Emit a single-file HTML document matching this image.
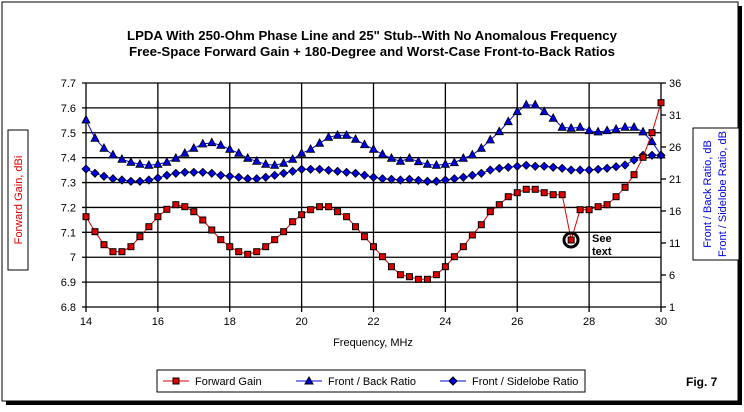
<!DOCTYPE html>
<html><head><meta charset="utf-8"><style>
body{margin:0;background:#fff;width:744px;height:407px;overflow:hidden;font-family:"Liberation Sans",Arial,sans-serif}
</style></head><body>
<svg id="s" width="744" height="407" xmlns="http://www.w3.org/2000/svg" font-family="Liberation Sans, Arial, sans-serif">
<rect x="0" y="0" width="744" height="407" fill="#fff"/>
<rect x="6" y="6" width="736" height="399" fill="#000"/>
<rect x="2" y="2" width="736" height="399" fill="#fff" stroke="#000" stroke-width="1"/>
<text x="127" y="40" textLength="490" lengthAdjust="spacingAndGlyphs" font-size="13" font-weight="bold">LPDA With 250-Ohm Phase Line and 25" Stub--With No Anomalous Frequency</text>
<text x="129" y="56" textLength="486" lengthAdjust="spacingAndGlyphs" font-size="13" font-weight="bold">Free-Space Forward Gain + 180-Degree and Worst-Case Front-to-Back Ratios</text>
<g id="grid" stroke="#000" stroke-width="1.3"></g>
<g font-size="11" id="lbl"></g>
<rect x="8" y="130" width="20" height="140" fill="#fff" stroke="#000"/>
<text transform="translate(22,200) rotate(-90)" text-anchor="middle" font-size="11" fill="#e00000">Forward Gain, dBi</text>
<rect x="693" y="128" width="46" height="132" fill="#fff" stroke="#000"/>
<text transform="translate(711,194) rotate(-90)" text-anchor="middle" font-size="11" fill="#0000e0">Front / Back Ratio,  dB</text>
<text transform="translate(726,194) rotate(-90)" text-anchor="middle" font-size="11" fill="#0000e0">Front / Sidelobe Ratio,  dB</text>
<text x="373" y="346" text-anchor="middle" font-size="11">Frequency, MHz</text>
<g id="data"></g>
<circle cx="571" cy="240" r="7" fill="none" stroke="#000" stroke-width="3"/>
<text x="592" y="242" font-size="11" font-weight="bold">See</text>
<text x="592" y="255" font-size="11" font-weight="bold">text</text>
<rect x="157" y="370" width="428" height="22" fill="#fff" stroke="#000"/>
<line x1="163" y1="381" x2="189" y2="381" stroke="#e00000"/><rect x="173" y="378" width="6" height="6" fill="#e00000" stroke="#000"/>
<text x="195" y="385" font-size="11">Forward Gain</text>
<line x1="296" y1="381" x2="322" y2="381" stroke="#0000e0"/><polygon points="309,377 305,384 313,384" fill="#0000e0" stroke="#000"/>
<text x="328" y="385" font-size="11">Front / Back Ratio</text>
<line x1="440" y1="381" x2="466" y2="381" stroke="#0000e0"/><polygon points="453,377 457,381 453,385 449,381" fill="#0000e0" stroke="#000"/>
<text x="472" y="385" font-size="11">Front / Sidelobe Ratio</text>
<text x="686" y="386" font-size="12" font-weight="bold">Fig. 7</text>
</svg>
<script>
var NS="http://www.w3.org/2000/svg",X0=86,X1=661,Y0=83,Y1=307;
function el(p,t,a,txt){var e=document.createElementNS(NS,t);for(var k in a)e.setAttribute(k,a[k]);if(txt!=null)e.textContent=txt;document.getElementById(p).appendChild(e);return e;}
function fx(f){return X0+(f-14)*(X1-X0)/16;}
for(var i=0;i<=9;i++){var y=Y0+i*(Y1-Y0)/9;el("grid","line",{x1:X0-4,y1:y,x2:X1,y2:y});
el("lbl","text",{x:X0-10,y:y+4,"text-anchor":"end"},(7.7-i*0.1).toFixed(1).replace(/\.0$/,""));}
for(var i=0;i<=7;i++){var y=Y0+i*(Y1-Y0)/7;el("grid","line",{x1:X1,y1:y,x2:X1+5,y2:y});el("lbl","text",{x:X1+8,y:y+4},36-5*i);}
for(var f=14;f<=30;f+=2){var x=fx(f);el("grid","line",{x1:x,y1:Y0,x2:x,y2:Y1+5});el("lbl","text",{x:x,y:Y1+18,"text-anchor":"middle"},f);}
var g=[216.7,231.7,244.7,251.7,251.7,246.7,236.7,226.7,216.7,209.3,204.7,206.7,211.7,220,230,239.7,246.7,251.7,254.3,251.7,246.7,239.7,231.7,221.7,214.7,209.7,206.7,206.7,211.7,216.7,226.7,236.7,246.7,256.7,266.7,274.7,276.7,279.3,279.3,274.7,266.7,256.7,246.7,235,224.7,211.7,204.7,196.7,192.7,189.3,189.3,192.7,194.7,194.7,240,209.7,209.7,206.7,204.7,196.7,187.3,174.7,157.3,132.7,102.7];
var t=[120,138.3,148.3,155,159.3,162.3,164.3,165.3,164.3,162.3,158.3,153.3,148.3,144,142.7,145.3,149.3,153.3,158.3,161.3,164.3,165.3,163.3,159.3,153.3,149.3,143.3,137.3,135.3,135.3,139.3,144.7,149.3,154.3,158.3,161.3,158.3,161.7,164.3,165.3,164.3,162.7,158.3,155,148.3,140,131.7,121.7,111.7,105,105,111.7,118.3,127.3,128.3,127.3,130.7,132,130.7,129.3,127.3,127.3,132,141.7,155];
var d=[169,173.3,176.3,178.7,180,181.3,181.3,180,178,175.3,173.3,172.3,172.3,172.3,173.3,175.3,176.3,177.3,178.7,178.7,177.3,175.3,173.3,171.3,169.3,169.3,169.3,170.3,171.3,172.3,173.3,175.3,177.3,178.7,179.3,180,179.3,180.3,181.3,181.3,180,178.7,177.3,175.3,173.3,170,168.3,167.3,166.3,165.3,166.3,166.3,167.3,168.3,170,170,170,169.3,168.3,166.7,165,160,155.3,155.3,155.3];
function series(a,col,mk){var p=a.map(function(y,i){return fx(14+i*0.25)+","+y;}).join(" ");
el("data","polyline",{points:p,fill:"none",stroke:col,"stroke-width":1});
a.forEach(function(y,i){var x=fx(14+i*0.25);
if(mk=="s")el("data","rect",{x:x-3,y:y-3,width:6,height:6,fill:"#e00000",stroke:"#000"});
else if(mk=="t")el("data","polygon",{points:(x)+","+(y-4.5)+" "+(x-4)+","+(y+3)+" "+(x+4)+","+(y+3),fill:"#0000e0",stroke:"#000","stroke-width":0.8});
else el("data","polygon",{points:x+","+(y-4)+" "+(x+4)+","+y+" "+x+","+(y+4)+" "+(x-4)+","+y,fill:"#0000e0",stroke:"#000","stroke-width":0.8});});}
series(d,"#0000e0","d");series(t,"#0000e0","t");series(g,"#e00000","s");
</script>
</body></html>
